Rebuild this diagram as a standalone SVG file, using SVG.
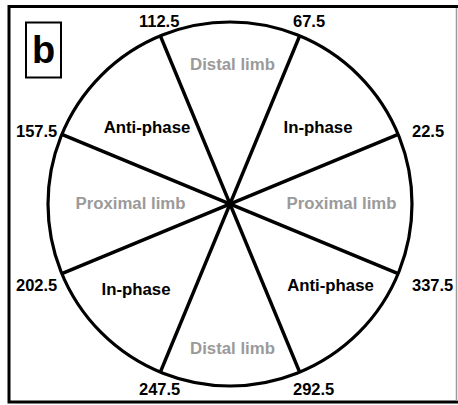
<svg xmlns="http://www.w3.org/2000/svg" width="458" height="405" viewBox="0 0 458 405">
  <style>
    .num { font-family: "Liberation Sans", Arial, sans-serif; font-weight: bold; font-size: 16.5px; fill: #000; }
    .phase { font-family: "Liberation Sans", Arial, sans-serif; font-weight: bold; font-size: 16.8px; fill: #000; text-anchor: middle; }
    .limb { font-family: "Liberation Sans", Arial, sans-serif; font-weight: bold; font-size: 16.8px; fill: #9a9a9a; text-anchor: middle; }
    .axis { stroke: #000; stroke-width: 3.5; fill: none; }
  </style>
  <rect width="458" height="405" fill="#fff"/>
  <g id="frame">
    <path d="M9 403 V6.5 H458 M7.5 402 H458" stroke="#000" stroke-width="3" fill="none"/>
    <line x1="456.5" y1="8" x2="456.5" y2="401" stroke="#999" stroke-width="1.5"/>
  </g>
  <g id="panel-label">
    <rect x="26" y="22.5" width="35" height="55" fill="#fff" stroke="#000" stroke-width="2"/>
    <text x="43.5" y="63" font-family="Liberation Sans, Arial, sans-serif" font-weight="bold" font-size="38" text-anchor="middle">b</text>
  </g>
  <g id="circle">
    <circle cx="230" cy="204" r="182" fill="none" stroke="#000" stroke-width="3.2"/>
  </g>
  <g id="connectors">
    <line class="axis" x1="398.15" y1="134.35" x2="61.85" y2="273.65"/>
    <line class="axis" x1="299.65" y1="35.85" x2="160.35" y2="372.15"/>
    <line class="axis" x1="160.35" y1="35.85" x2="299.65" y2="372.15"/>
    <line class="axis" x1="61.85" y1="134.35" x2="398.15" y2="273.65"/>
  </g>
  <g id="angle-labels">
    <text class="num" x="139" y="27">112.5</text>
    <text class="num" x="293" y="27">67.5</text>
    <text class="num" x="412" y="137">22.5</text>
    <text class="num" x="16" y="137">157.5</text>
    <text class="num" x="16" y="291">202.5</text>
    <text class="num" x="412" y="291">337.5</text>
    <text class="num" x="139" y="395">247.5</text>
    <text class="num" x="293" y="395">292.5</text>
  </g>
  <g id="sector-distal-top"><text class="limb" x="232.5" y="69.5">Distal limb</text></g>
  <g id="sector-inphase-top"><text class="phase" x="318" y="133">In-phase</text></g>
  <g id="sector-proximal-right"><text class="limb" x="341.5" y="209">Proximal limb</text></g>
  <g id="sector-antiphase-bottom"><text class="phase" x="330.5" y="291">Anti-phase</text></g>
  <g id="sector-distal-bottom"><text class="limb" x="232.5" y="354">Distal limb</text></g>
  <g id="sector-inphase-bottom"><text class="phase" x="136" y="295">In-phase</text></g>
  <g id="sector-proximal-left"><text class="limb" x="130.5" y="209">Proximal limb</text></g>
  <g id="sector-antiphase-top"><text class="phase" x="147" y="133">Anti-phase</text></g>
</svg>
